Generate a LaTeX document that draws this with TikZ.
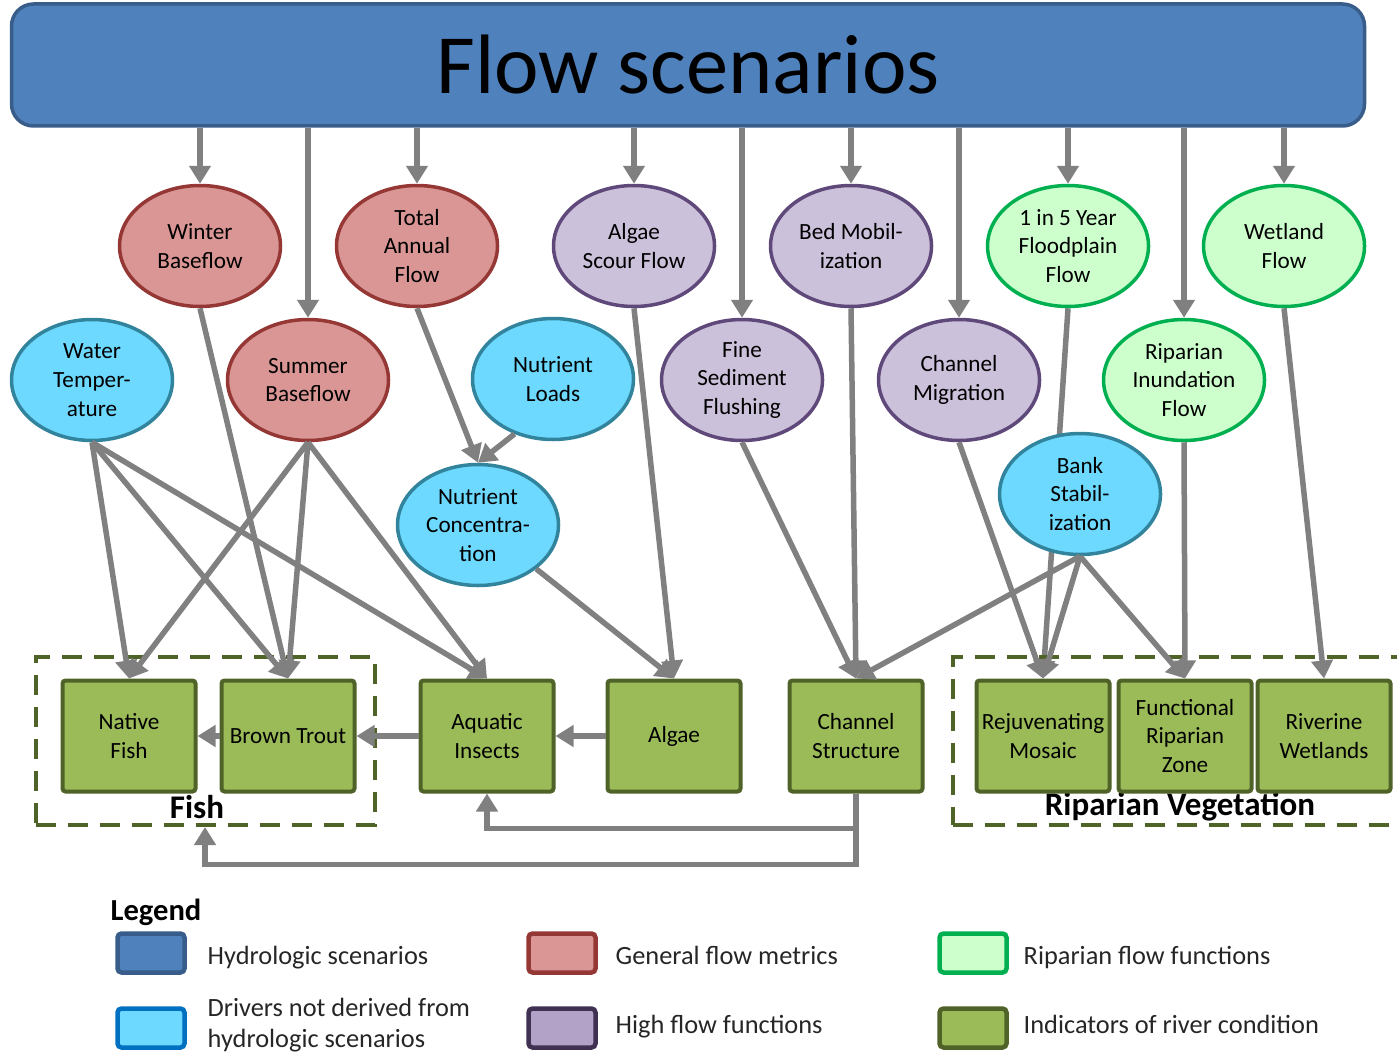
\documentclass[tikz,border=0pt]{standalone}
\usepackage{fontspec}
\setmainfont{Carlito}
\usetikzlibrary{arrows.meta,positioning,shapes.geometric,backgrounds}
\definecolor{tFill}{RGB}{79,129,189}
\definecolor{tLine}{RGB}{56,93,138}
\definecolor{rFill}{RGB}{217,150,148}
\definecolor{rLine}{RGB}{149,55,53}
\definecolor{pFill}{RGB}{204,193,218}
\definecolor{pLine}{RGB}{95,73,122}
\definecolor{cFill}{RGB}{109,217,255}
\definecolor{cLine}{RGB}{49,132,155}
\definecolor{gFill}{RGB}{204,255,204}
\definecolor{gLine}{RGB}{0,176,80}
\definecolor{oFill}{RGB}{155,187,89}
\definecolor{oLine}{RGB}{79,98,40}
\definecolor{cLeg}{RGB}{0,112,192}
\definecolor{pLeg}{RGB}{179,162,199}
\definecolor{pLegLine}{RGB}{64,49,82}
\definecolor{arr}{RGB}{128,128,128}

\begin{document}
\begin{tikzpicture}[x=0.1mm,y=-0.1mm,font=\fontsize{6.6}{8.2}\selectfont,
  el/.style={ellipse,line width=0.35mm,minimum width=16.1mm,minimum height=12.1mm,inner sep=0pt,align=center},
  rd/.style={el,draw=rLine,fill=rFill},
  pu/.style={el,draw=pLine,fill=pFill},
  cy/.style={el,draw=cLine,fill=cFill},
  gn/.style={el,draw=gLine,fill=gFill},
  ind/.style={draw=oLine,fill=oFill,line width=0.4mm,minimum width=13.3mm,minimum height=11.1mm,inner sep=0pt,align=center,rounded corners=0.3mm},
  grp/.style={draw=oLine,line width=0.4mm,dash pattern=on 2mm off 1.2mm,minimum height=16.8mm,inner sep=0pt},
  glbl/.style={font=\fontsize{9.4}{11}\selectfont\bfseries,inner sep=0pt},
  sw/.style={line width=0.45mm,minimum width=6.7mm,minimum height=3.9mm,inner sep=0pt,rounded corners=0.4mm},
  lt/.style={anchor=base west,inner sep=0pt,align=left,font=\fontsize{7.5}{8.6}\selectfont,text=black!85},
  a/.style={-{Triangle[width=2.1mm,length=1.8mm]},line width=0.55mm,arr}]
  \useasboundingbox (0,0) rectangle (1397,1053);
  % title bar
  \node[draw=tLine,fill=tFill,line width=0.35mm,rounded corners=2.2mm,minimum width=135.3mm,minimum height=12.2mm,font=\fontsize{24}{28}\selectfont] (flow) at (688,65) {Flow scenarios};
  % groups
  \node[grp,minimum width=33.9mm] (fish) at (205,741) {};
  \node[grp,minimum width=44.9mm] (ripv) at (1177,741) {};
  \node[glbl] (fishlbl) at (197,807) {Fish};
  \node[glbl] (riplbl) at (1180,807) {Riparian Vegetation};
  % flow metrics and functions
  \node[rd] (wb) at (200,246) {Winter\\Baseflow};
  \node[rd] (ta) at (417,246) {Total\\Annual\\Flow};
  \node[pu] (as) at (634,246) {Algae\\Scour Flow};
  \node[pu] (bm) at (851,246) {Bed Mobil-\\ization};
  \node[gn] (ff) at (1068,246) {1 in 5 Year\\Floodplain\\Flow};
  \node[gn] (wf) at (1284,246) {Wetland\\Flow};
  \node[cy] (wt) at (92,380) {Water\\Temper-\\ature};
  \node[rd] (sb) at (308,380) {Summer\\Baseflow};
  \node[cy] (nl) at (553,379) {Nutrient\\Loads};
  \node[pu] (fs) at (742,380) {Fine\\Sediment\\Flushing};
  \node[pu] (cm) at (959,380) {Channel\\Migration};
  \node[gn] (ri) at (1184,380) {Riparian\\Inundation\\Flow};
  \node[cy] (nc) at (478,525) {Nutrient\\Concentra-\\tion};
  \node[cy] (bs) at (1080,494) {Bank\\Stabil-\\ization};
  % indicators
  \node[ind] (nf) at (129,736) {Native\\Fish};
  \node[ind] (bt) at (288,736) {Brown Trout};
  \node[ind] (ai) at (487,736) {Aquatic\\Insects};
  \node[ind] (al) at (674,736) {Algae};
  \node[ind] (cs) at (856,736) {Channel\\Structure};
  \node[ind] (rm) at (1043,736) {Rejuvenating\\Mosaic};
  \node[ind] (fr) at (1185,736) {Functional\\Riparian\\Zone};
  \node[ind] (rw) at (1324,736) {Riverine\\Wetlands};
  % links
  \foreach \n in {wb,sb,ta,as,fs,bm,cm,ff,ri,wf}
    \draw[a] (flow.south -| \n.north) -- (\n.north);
  \begin{scope}[on background layer]
    \draw[a] (ff.south) -- (rm.north);
  \end{scope}
  \foreach \m in {nf,bt,ai} {
    \draw[a] (wt.south) -- (\m.north);
    \draw[a] (sb.south) -- (\m.north);
  }
  \draw[a] (wb.south) -- (bt.north);
  \draw[a] (ta.south) -- (nc.north);
  \draw[a] (nl.235) -- (nc.north);
  \draw[a] (as.south) -- (al.north);
  \draw[a] (nc.-37) -- (al.north);
  \draw[a] (fs.south) -- (cs.north);
  \draw[a] (bm.south) -- (cs.north);
  \draw[a] (bs.south) -- (cs.north);
  \draw[a] (cm.south) -- (rm.north);
  \draw[a] (bs.south) -- (rm.north);
  \draw[a] (bs.south) -- (fr.north);
  \draw[a] (ri.south) -- (fr.north);
  \draw[a] (wf.south) -- (rw.north);
  \draw[a] (bt.west) -- (nf.east);
  \draw[a] (ai.west) -- (bt.east);
  \draw[a] (al.west) -- (ai.east);
  \draw[a] (cs.south) -- ++(0,35) -| (ai.south);
  \draw[a] (cs.south) -- ++(0,71) -| (fish.south);
  % legend
  \node[font=\fontsize{8.7}{10}\selectfont\bfseries,inner sep=0pt] (leg) at (156,912) {Legend};
  \node[sw,draw=tLine,fill=tFill] (s1) at (151,953) {};
  \node[sw,draw=rLine,fill=rFill] (s2) at (562,953) {};
  \node[sw,draw=gLine,fill=gFill] (s3) at (973,953) {};
  \node[sw,draw=cLeg,fill=cFill] (s4) at (151,1028) {};
  \node[sw,draw=pLegLine,fill=pLeg] (s5) at (562,1028) {};
  \node[sw,draw=oLine,fill=oFill] (s6) at (973,1028) {};
  \node[lt] (t1) at (207,964) {Hydrologic scenarios};
  \node[lt] (t2) at (615,964) {General flow metrics};
  \node[lt] (t3) at (1023,964) {Riparian flow functions};
  \node[lt] (t4) at (207,1047) {Drivers not derived from\\hydrologic scenarios};
  \node[lt] (t5) at (615,1033) {High flow functions};
  \node[lt] (t6) at (1023,1033) {Indicators of river condition};
\end{tikzpicture}
\end{document}
